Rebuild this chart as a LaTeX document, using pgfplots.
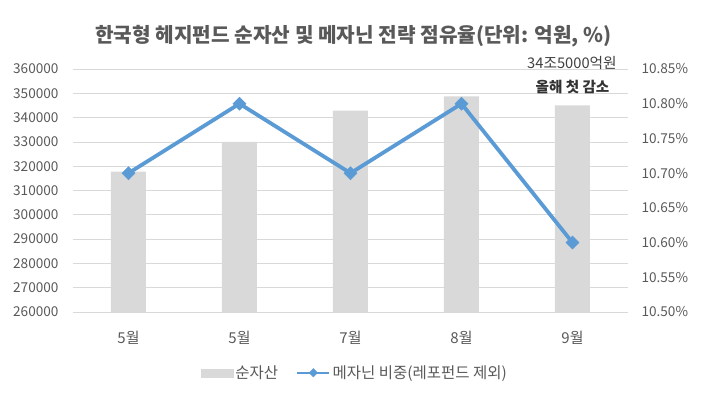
\documentclass[border=0pt]{standalone}
\usepackage{fontspec}
\setmainfont{Noto Sans CJK KR}
\usepackage{pgfplots}
\pgfplotsset{compat=1.18}
\definecolor{barc}{HTML}{D9D9D9}
\definecolor{linec}{HTML}{5B9BD5}
\definecolor{txt}{HTML}{595959}
\definecolor{gridc}{HTML}{D9D9D9}
\pgfplotsset{mylineleg/.style={legend image code/.code={\draw[mark repeat=2,mark phase=2,##1,line width=2.5pt,mark size=3pt] plot coordinates {(0pt,0pt) (16pt,0pt) (32pt,0pt)};}}}
\begin{document}
\begin{tikzpicture}
\path[use as bounding box] (-73pt,-101pt) rectangle (634pt,312pt);
\begin{axis}[
  at={(0pt,0pt)}, anchor=south west,
  scale only axis, width=555pt, height=243pt,
  xmin=-0.5, xmax=4.5, ymin=260000, ymax=360000,
  ytick={260000,270000,280000,290000,300000,310000,320000,330000,340000,350000,360000},
  ymajorgrids, grid style={gridc, line width=0.8pt},
  axis line style={draw=none}, major tick length=0pt,
  xtick={0,1,2,3,4}, xticklabels={5월,5월,7월,8월,9월},
  scaled y ticks=false,
  /pgf/number format/assume math mode=true,
  yticklabel={\pgfmathprintnumber[fixed,1000 sep={}]{\tick}},
  yticklabel style={font=\fontsize{13.6}{15}\selectfont, text=txt, xshift=-11pt},
  xticklabel style={font=\fontsize{15}{17}\selectfont, text=txt, yshift=-16pt},
]
\addplot[ybar, bar width=35pt, fill=barc, draw=none] coordinates {(0,317800) (1,330000) (2,342900) (3,348700) (4,345000)};
\end{axis}
\begin{axis}[
  at={(0pt,0pt)}, anchor=south west,
  scale only axis, width=555pt, height=243pt,
  xmin=-0.5, xmax=4.5, ymin=10.5, ymax=10.85,
  axis y line*=right, axis x line=none,
  axis line style={draw=none}, major tick length=0pt,
  ytick={10.5,10.55,10.6,10.65,10.7,10.75,10.8,10.85},
  /pgf/number format/assume math mode=true,
  yticklabel={\pgfmathprintnumber[fixed,fixed zerofill,precision=2]{\tick}\%},
  yticklabel style={font=\fontsize{13.6}{15}\selectfont, text=txt, xshift=10pt},
  legend columns=2,
  legend style={at={(0.508,-0.25)}, anchor=center, draw=none, fill=none,
    font=\fontsize{15.5}{17}\selectfont, text=txt,
    /tikz/every even column/.style={column sep=16pt}},
]
\addlegendimage{legend image code/.code={\fill[barc] (0pt,-4pt) rectangle (32pt,4pt);}}
\addlegendentry{순자산}
\addplot[linec, line width=3.8pt, mark=square*, mark size=4.6pt,
  mark options={rotate=45, solid, line width=0.5pt, fill=linec}, mylineleg]
  coordinates {(0,10.70) (1,10.80) (2,10.70) (3,10.80) (4,10.60)};
\addlegendentry{메자닌 비중(레포펀드 제외)}
\end{axis}
\node[font=\bfseries\fontsize{20.2}{23}\selectfont, text=txt] at (280.5pt,276pt) {한국형 헤지펀드 순자산 및 메자닌 전략 점유율(단위: 억원, \%)};
\node[font=\fontsize{14.7}{16}\selectfont, text=black!75] at (499pt,249pt) {34조5000억원};
\node[font=\bfseries\fontsize{14.6}{16}\selectfont, text=black!80] at (499.5pt,225pt) {올해 첫 감소};
\end{tikzpicture}
\end{document}
